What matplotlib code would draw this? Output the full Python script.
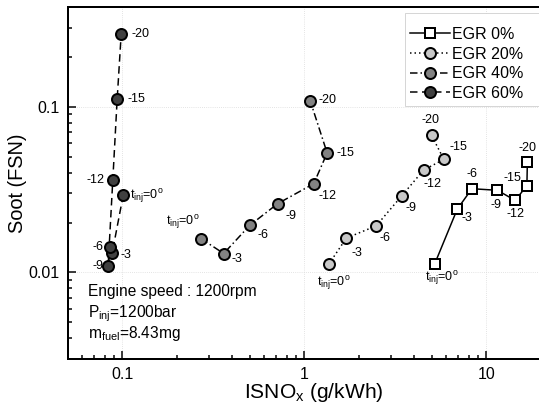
import matplotlib
matplotlib.use('Agg')
import matplotlib.pyplot as plt
from matplotlib.patches import Rectangle
from matplotlib.ticker import NullFormatter

plt.rcParams['font.family'] = ['Liberation Sans', 'DejaVu Sans']
plt.rcParams['mathtext.default'] = 'regular'

# injection timing (deg) for each point, in plotting order
timing_labels = [r'$t_{inj}$=0$^{o}$', '-3', '-6', '-9', '-12', '-15', '-20']
egr_labels = ['EGR 0%', 'EGR 20%', 'EGR 40%', 'EGR 60%']

# ISNOx (g/kWh) and soot (FSN), timings 0, -3, -6, -9, -12, -15, -20
nox_egr0 = [5.19, 6.92, 8.33, 11.5, 14.4, 16.7, 16.8]
soot_egr0 = [0.0112, 0.0241, 0.0320, 0.0313, 0.0272, 0.0334, 0.0466]
nox_egr20 = [1.36, 1.70, 2.48, 3.42, 4.52, 5.84, 5.00]
soot_egr20 = [0.0112, 0.0161, 0.0191, 0.0289, 0.0415, 0.0481, 0.0671]
nox_egr40 = [0.270, 0.360, 0.500, 0.713, 1.125, 1.333, 1.075]
soot_egr40 = [0.0160, 0.0130, 0.0192, 0.0260, 0.0343, 0.0526, 0.109]
nox_egr60 = [0.101, 0.0878, 0.0856, 0.0834, 0.0885, 0.0935, 0.0984]
soot_egr60 = [0.0294, 0.0131, 0.0142, 0.0110, 0.0363, 0.111, 0.275]

series = [
    (nox_egr0, soot_egr0, 's', 'white', '-', 10),
    (nox_egr20, soot_egr20, 'o', '#c8c8c8', (0, (1, 2)), 11),
    (nox_egr40, soot_egr40, 'o', '#828282', (0, (5, 2, 1, 2)), 11),
    (nox_egr60, soot_egr60, 'o', '#404040', (0, (5, 3)), 11),
]

# label offsets in points (dx, dy, ha) for each series / point
label_pos = [
    [(-10, -14, 'left'), (4, -9, 'left'), (0, 15, 'center'), (-1, -15, 'center'),
     (0, -14, 'center'), (-6, 8, 'right'), (0, 14, 'center')],
    [(-12, -19, 'left'), (5, -15, 'left'), (3, -12, 'left'), (4, -12, 'left'),
     (0, -14, 'left'), (6, 12, 'left'), (-1, 15, 'center')],
    [(-1, 17, 'right'), (8, -5, 'left'), (8, -10, 'left'), (8, -12, 'left'),
     (5, -12, 'left'), (9, 0, 'left'), (8, 1, 'left')],
    [(7, -1, 'left'), (8, -2, 'left'), (-7, 0, 'right'), (-5, 0, 'right'),
     (-8, 0, 'right'), (10, 0, 'left'), (10, 0, 'left')],
]

fig = plt.figure(figsize=(539 / 72, 405 / 72), dpi=72)
ax = fig.add_axes([67.7 / 539, 46 / 405, 477.3 / 539, 352 / 405])

for (x, y, mk, fc, ls, ms), lab, pos in zip(series, egr_labels, label_pos):
    ax.plot(x, y, color='black', linestyle=ls, linewidth=1.5, marker=mk,
            markersize=ms, markerfacecolor=fc, markeredgecolor='black',
            markeredgewidth=2, label=lab)
    for xi, yi, t, (dx, dy, ha) in zip(x, y, timing_labels, pos):
        ax.annotate(t, (xi, yi), xytext=(dx, dy), textcoords='offset points',
                    ha=ha, va='center', fontsize=12.5)

ax.set_xscale('log')
ax.set_yscale('log')
ax.set_xlim(0.05, 21)
ax.set_ylim(0.003, 0.4)
ax.set_xticks([0.1, 1, 10], ['0.1', '1', '10'])
ax.set_yticks([0.01, 0.1], ['0.01', '0.1'])
ax.xaxis.set_minor_formatter(NullFormatter())
ax.yaxis.set_minor_formatter(NullFormatter())
ax.tick_params(which='both', direction='in', width=1.5, labelsize=16)
ax.tick_params(which='major', length=8, pad=8)
ax.tick_params(which='minor', length=4)
ax.grid(True, which='major', color='#d8d8d8', linestyle=':', linewidth=0.8)
for s in ax.spines.values():
    s.set_linewidth(2)

ax.set_xlabel(r'ISNO$_x$ (g/kWh)', fontsize=21)
ax.xaxis.set_label_coords(0.516, -0.063)
ax.set_ylabel('Soot (FSN)', fontsize=20, labelpad=2)

ax.text(0.0425, 0.179, 'Engine speed : 1200rpm', transform=ax.transAxes,
        fontsize=15.5, va='baseline')
ax.text(0.0425, 0.119, r'$P_{inj}$=1200bar', transform=ax.transAxes,
        fontsize=15.5, va='baseline')
ax.text(0.0425, 0.0597, r'$m_{fuel}$=8.43mg', transform=ax.transAxes,
        fontsize=15.5, va='baseline')

# legend box runs off the right edge of the picture
ax.add_patch(Rectangle((0.7067, 0.7188), 0.32, 0.2642, transform=ax.transAxes,
                       facecolor='white', edgecolor='#cccccc', linewidth=0.8,
                       zorder=4, clip_on=False))
leg = ax.legend(loc='upper left', bbox_to_anchor=(0.7172, 0.9432), fontsize=16,
                handlelength=2.5, handletextpad=0.15, labelspacing=0.29,
                borderpad=0, borderaxespad=0, frameon=False)
leg.set_zorder(5)

fig.savefig('out.png', dpi=72)
